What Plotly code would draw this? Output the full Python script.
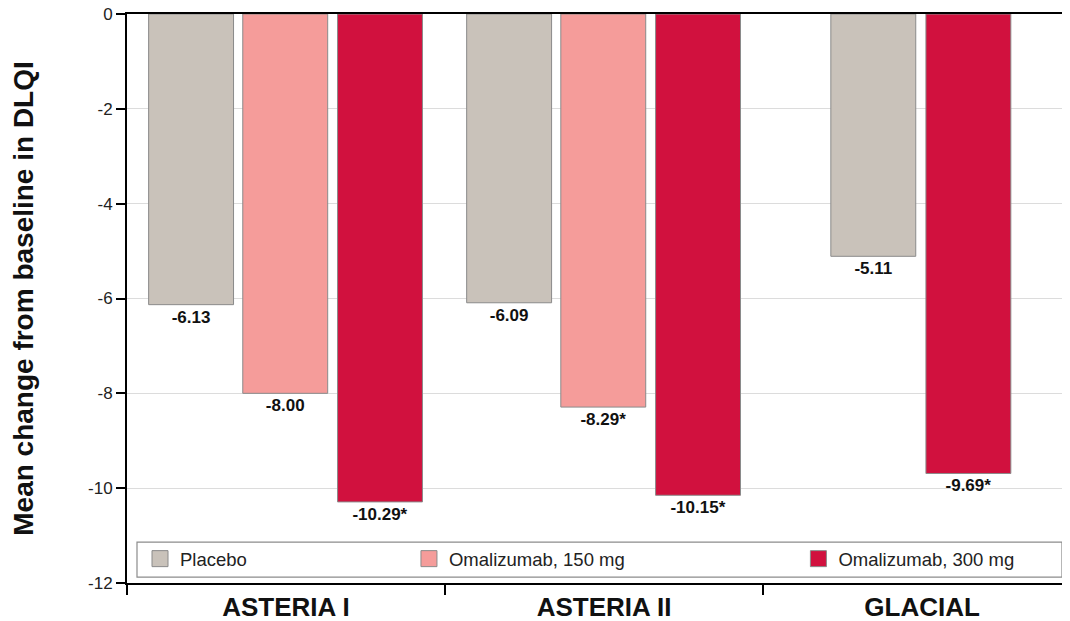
import plotly.graph_objects as go

categories = ["ASTERIA I", "ASTERIA II", "GLACIAL"]
placebo = [-6.13, -6.09, -5.11]
placebo_lbl = ["-6.13", "-6.09", "-5.11"]
oma150_cats = ["ASTERIA I", "ASTERIA II"]
oma150 = [-8.00, -8.29]
oma150_lbl = ["-8.00", "-8.29*"]
oma300 = [-10.29, -10.15, -9.69]
oma300_lbl = ["-10.29*", "-10.15*", "-9.69*"]
y_ticks = [0, -2, -4, -6, -8, -10, -12]
series_names = ["Placebo", "Omalizumab, 150 mg", "Omalizumab, 300 mg"]

C_PLA = "#c9c2ba"
C_150 = "#f59c9a"
C_300 = "#d1113e"
EDGE = "#8a8a8a"
BW = 0.267
lblfont = dict(family="Liberation Sans, Arial", size=17, color="#111")

fig = go.Figure()
fig.add_trace(go.Bar(
    x=categories, y=placebo, name=series_names[0], width=BW,
    offset=[-0.432, -0.432, -0.287],
    marker=dict(color=C_PLA, line=dict(color=EDGE, width=1)),
    text=placebo_lbl, textposition="outside", textfont=lblfont,
    cliponaxis=False, showlegend=False))
fig.add_trace(go.Bar(
    x=oma150_cats, y=oma150, name=series_names[1], width=BW,
    offset=[-0.136, -0.136],
    marker=dict(color=C_150, line=dict(color=EDGE, width=1)),
    text=oma150_lbl, textposition="outside", textfont=lblfont,
    cliponaxis=False, showlegend=False))
fig.add_trace(go.Bar(
    x=categories, y=oma300, name=series_names[2], width=BW,
    offset=[0.162, 0.162, 0.012],
    marker=dict(color=C_300, line=dict(color=EDGE, width=1)),
    text=oma300_lbl, textposition="outside", textfont=lblfont,
    cliponaxis=False, showlegend=False))
fig.update_traces(texttemplate="<b>%{text}</b>")

# legend swatches (one legend per entry so they can be spaced like the original)
for name, col, leg in zip(series_names, [C_PLA, C_150, C_300], ["legend", "legend2", "legend3"]):
    fig.add_trace(go.Scatter(
        x=[None], y=[None], mode="markers", name=name, legend=leg, showlegend=True,
        marker=dict(symbol="square", size=20, color=col, line=dict(color=EDGE, width=1))))

legfont = dict(family="Liberation Sans, Arial", size=18.5, color="#222")
common_leg = dict(orientation="h", yanchor="middle", y=0.042, xanchor="left",
                  bgcolor="rgba(0,0,0,0)", borderwidth=0, font=legfont, visible=True)

fig.update_layout(
    width=1062, height=613,
    margin=dict(l=119, r=0, t=6, b=38, autoexpand=False),
    plot_bgcolor="white", paper_bgcolor="white",
    barmode="overlay",
    showlegend=True,
    legend=dict(x=0.0138, **common_leg),
    legend2=dict(x=0.299, **common_leg),
    legend3=dict(x=0.712, **common_leg),
    font=dict(family="Liberation Sans, Arial", color="#222"),
    xaxis=dict(
        type="category", range=[-0.5, 2.465], automargin=False,
        showline=True, linecolor="black", linewidth=2, mirror=True,
        ticks="outside", tickson="boundaries", ticklen=10, tickcolor="black", tickwidth=2,
        tickfont=dict(family="Liberation Sans, Arial", size=26, color="#111"),
        tickprefix="<b>", ticksuffix="</b>",
        showgrid=False, zeroline=False,
    ),
    yaxis=dict(
        range=[-12, 0], tickvals=y_ticks, ticktext=[str(v) for v in y_ticks],
        automargin=False,
        showline=True, linecolor="black", linewidth=2,
        ticks="outside", ticklen=9, tickcolor="black", tickwidth=1.5,
        tickfont=dict(size=17, color="#222"), ticklabeloverflow="allow",
        showgrid=True, gridcolor="#dcdcdc", gridwidth=1, zeroline=False,
        title=dict(text="<b>Mean change from baseline in DLQI</b>",
                   font=dict(size=28, color="#111"), standoff=47),
    ),
    shapes=[dict(type="rect", xref="paper", yref="paper",
                 x0=0.0106, x1=0.9915, y0=0.0105, y1=0.072,
                 line=dict(color="#8c8c8c", width=1.2), fillcolor="white", layer="below")],
)

fig.write_html("out.html")
